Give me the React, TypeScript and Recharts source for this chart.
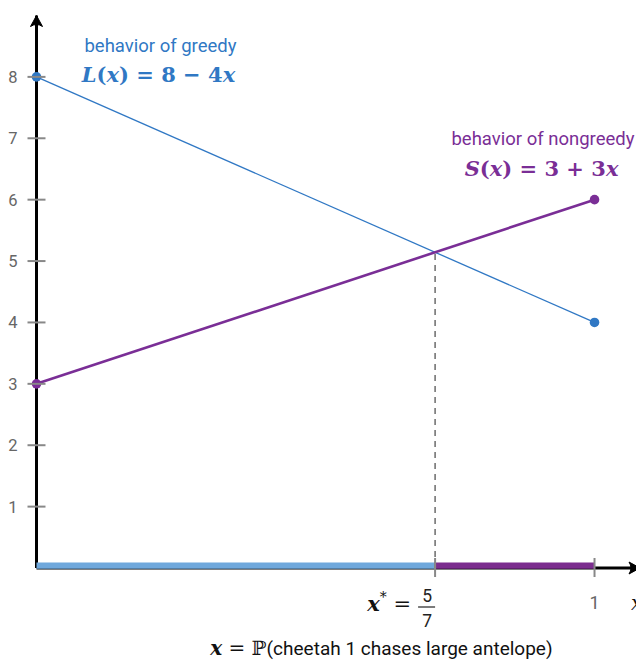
import { ComposedChart, Line, XAxis, YAxis, ReferenceLine, ReferenceDot, ReferenceArea } from "recharts";

const BLUE = "#3078c4";
const PURPLE = "#7a2e96";
const BLUE_BAR = "#6fa8dc";
const PURPLE_BAR = "#7b2d8e";
const GRAY = "#666";

const xStar = 5 / 7;
const yStar = 3 + 3 * xStar;

const greedy = [
  { x: 0, y: 8 },
  { x: 1, y: 4 },
];
const nongreedy = [
  { x: 0, y: 3 },
  { x: 1, y: 6 },
];
const yTicks = [1, 2, 3, 4, 5, 6, 7, 8];
const xTicks = [xStar, 1];
const X_MAX = 1.0815;
const Y_MAX = 9;

const MATH = "'DejaVu Serif', 'Liberation Serif', serif";
const SANS = "Roboto, 'Noto Sans', sans-serif";

function YTick(props: any) {
  const { x, y, payload } = props;
  return (
    <g>
      <line x1={x - 9} x2={x + 9} y1={y} y2={y} stroke="#888" strokeWidth={2} />
      <text x={x - 19} y={y} dy={6} textAnchor="end" fill={GRAY} fontSize={16.5} fontFamily={SANS}>
        {payload.value}
      </text>
    </g>
  );
}

function XTick(props: any) {
  const { x, y, payload } = props;
  const isStar = Math.abs(payload.value - xStar) < 1e-6;
  return (
    <g>
      <line x1={x} x2={x} y1={y - 10} y2={y + 9} stroke="#888" strokeWidth={2} />
      {isStar ? (
        <g>
          <text x={x - 24} y={y + 43} textAnchor="end" fill="#111" fontSize={21} fontFamily={MATH}>
            <tspan fontStyle="italic" fontWeight="bold">x</tspan>
            <tspan dy={-9} fontSize={14}>*</tspan>
            <tspan dy={9}> = </tspan>
          </text>
          <text x={x - 8} y={y + 34} textAnchor="middle" fill="#222" fontSize={17.5} fontFamily={SANS}>5</text>
          <line x1={x - 17} x2={x} y1={y + 39} y2={y + 39} stroke="#222" strokeWidth={1.2} />
          <text x={x - 8} y={y + 59} textAnchor="middle" fill="#222" fontSize={17.5} fontFamily={SANS}>7</text>
        </g>
      ) : (
        <text x={x} y={y + 41} textAnchor="middle" fill={GRAY} fontSize={18} fontFamily={SANS}>
          {payload.value}
        </text>
      )}
    </g>
  );
}

function UpArrow(props: any) {
  const { cx, cy } = props;
  return (
    <path
      d={`M${cx},${cy} L${cx - 6},${cy + 11} Q${cx},${cy + 7} ${cx + 6},${cy + 11} Z`}
      fill="#000"
      stroke="#000"
      strokeWidth={1}
    />
  );
}

function RightArrow(props: any) {
  const { cx, cy } = props;
  return (
    <g>
      <path
        d={`M${cx},${cy} L${cx - 11},${cy - 6} Q${cx - 7},${cy} ${cx - 11},${cy + 6} Z`}
        fill="#000"
        stroke="#000"
        strokeWidth={1}
      />
      <text x={cx - 9} y={cy + 42} fontSize={20} fontStyle="italic" fontFamily={MATH} fill="#111">
        x
      </text>
    </g>
  );
}

function GreedyLabel(props: any) {
  const { cx, cy } = props;
  return (
    <g>
      <text x={cx + 124} y={cy - 25} textAnchor="middle" fill={BLUE} fontSize={18.5} fontFamily={SANS}>
        behavior of greedy
      </text>
      <text x={cx + 122} y={cy + 5} textAnchor="middle" fill={BLUE} fontSize={21} fontFamily={MATH} fontWeight="bold">
        <tspan fontStyle="italic">L</tspan>(<tspan fontStyle="italic">x</tspan>) = 8 − 4<tspan fontStyle="italic">x</tspan>
      </text>
    </g>
  );
}

function NongreedyLabel(props: any) {
  const { cx, cy } = props;
  return (
    <g>
      <text x={cx + 40} y={cy - 55} textAnchor="end" fill={PURPLE} fontSize={18.5} fontFamily={SANS}>
        behavior of nongreedy
      </text>
      <text x={cx - 53} y={cy - 24} textAnchor="middle" fill={PURPLE} fontSize={21} fontFamily={MATH} fontWeight="bold">
        <tspan fontStyle="italic">S</tspan>(<tspan fontStyle="italic">x</tspan>) = 3 + 3<tspan fontStyle="italic">x</tspan>
      </text>
    </g>
  );
}

function AxisTitle(props: any) {
  const { cx, cy } = props;
  return (
    <text x={cx} y={cy + 87} textAnchor="middle" fill="#111" fontSize={19} fontFamily={SANS}>
      <tspan fontFamily={MATH} fontStyle="italic" fontWeight="bold" fontSize={20}>x</tspan>
      <tspan fontFamily={MATH} fontSize={20}> = ℙ</tspan>
      (cheetah 1 chases large antelope)
    </text>
  );
}

export default function App() {
  return (
    <div style={{ margin: "-8px 0 0 -8px", width: 644, height: 661, background: "#fff" }}>
      <ComposedChart width={644} height={661} margin={{ top: 15.5, right: 4, bottom: 0, left: 0 }}>
        <XAxis
          type="number"
          dataKey="x"
          domain={[0, X_MAX]}
          ticks={xTicks}
          tick={<XTick />}
          tickSize={0}
          tickMargin={0}
          tickLine={false}
          axisLine={false}
          height={93}
        />
        <YAxis
          type="number"
          domain={[0, Y_MAX]}
          ticks={yTicks}
          tick={<YTick />}
          tickSize={0}
          tickMargin={0}
          tickLine={false}
          axisLine={false}
          width={36.5}
        />
        <ReferenceLine
          segment={[
            { x: 0, y: 0 },
            { x: 0, y: Y_MAX },
          ]}
          stroke="#000"
          strokeWidth={3}
          ifOverflow="visible"
          zIndex={300}
        />
        <ReferenceLine
          segment={[
            { x: 0, y: 0 },
            { x: X_MAX, y: 0 },
          ]}
          stroke="#000"
          strokeWidth={3}
          ifOverflow="visible"
          zIndex={300}
        />
        <ReferenceArea x1={0} x2={xStar} y1={-0.012} y2={0.088} fill={BLUE_BAR} fillOpacity={1} stroke="none" ifOverflow="visible" zIndex={350} />
        <ReferenceArea x1={xStar} x2={1} y1={-0.012} y2={0.088} fill={PURPLE_BAR} fillOpacity={1} stroke="none" ifOverflow="visible" zIndex={350} />
        <ReferenceLine
          segment={[
            { x: xStar, y: 0 },
            { x: xStar, y: yStar },
          ]}
          stroke="#555"
          strokeWidth={1.3}
          strokeDasharray="6 5"
          zIndex={360}
        />
        <Line data={greedy} dataKey="y" stroke={BLUE} strokeWidth={1.3} dot={false} isAnimationActive={false} />
        <Line data={nongreedy} dataKey="y" stroke={PURPLE} strokeWidth={2.6} dot={false} isAnimationActive={false} />
        {greedy.map((p, i) => (
          <ReferenceDot key={`g${i}`} x={p.x} y={p.y} r={4.8} fill={BLUE} stroke="none" ifOverflow="visible" zIndex={1000} />
        ))}
        {nongreedy.map((p, i) => (
          <ReferenceDot key={`n${i}`} x={p.x} y={p.y} r={4.8} fill={PURPLE} stroke="none" ifOverflow="visible" zIndex={1000} />
        ))}
        <ReferenceDot x={0} y={Y_MAX} r={0} shape={<UpArrow />} ifOverflow="visible" />
        <ReferenceDot x={X_MAX} y={0} r={0} shape={<RightArrow />} ifOverflow="visible" />
        <ReferenceDot x={0} y={8} r={0} shape={<GreedyLabel />} ifOverflow="visible" />
        <ReferenceDot x={1} y={6} r={0} shape={<NongreedyLabel />} ifOverflow="visible" />
        <ReferenceDot x={0.618} y={0} r={0} shape={<AxisTitle />} ifOverflow="visible" />
      </ComposedChart>
    </div>
  );
}
